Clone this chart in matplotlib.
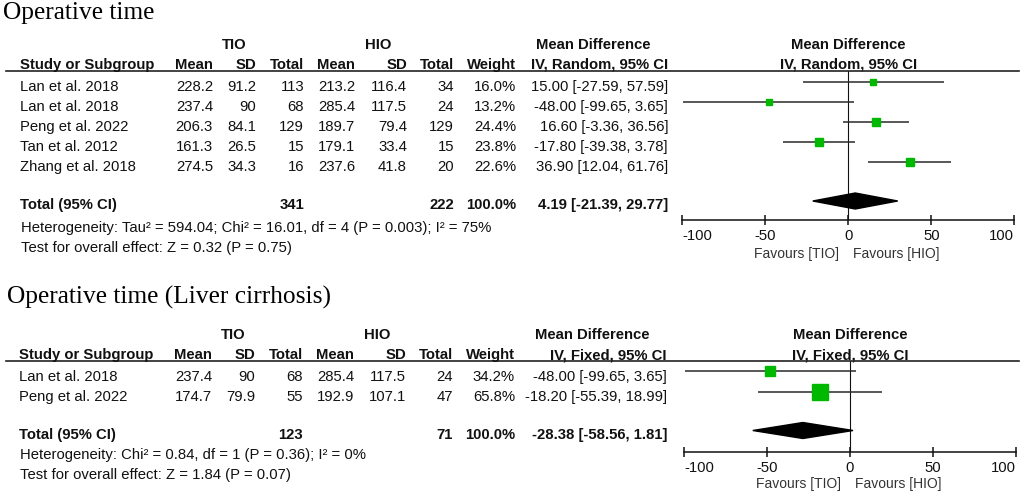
import numpy as np
import matplotlib
matplotlib.use("Agg")
import matplotlib.pyplot as plt
import matplotlib.transforms as mtransforms
from matplotlib.patches import Polygon
from matplotlib.lines import Line2D

plt.rcParams['axes.unicode_minus'] = False

# ---------------- data: panel 1 ----------------
p1_title = "Operative time"
p1_method = "IV, Random, 95% CI"
p1_studies = ["Lan et al. 2018", "Lan et al. 2018", "Peng et al. 2022",
              "Tan et al. 2012", "Zhang et al. 2018"]
p1_tio_mean = [228.2, 237.4, 206.3, 161.3, 274.5]
p1_tio_sd = [91.2, 90, 84.1, 26.5, 34.3]
p1_tio_n = [113, 68, 129, 15, 16]
p1_hio_mean = [213.2, 285.4, 189.7, 179.1, 237.6]
p1_hio_sd = [116.4, 117.5, 79.4, 33.4, 41.8]
p1_hio_n = [34, 24, 129, 15, 20]
p1_weight = [16.0, 13.2, 24.4, 23.8, 22.6]
p1_md = [15.00, -48.00, 16.60, -17.80, 36.90]
p1_lo = [-27.59, -99.65, -3.36, -39.38, 12.04]
p1_hi = [57.59, 3.65, 36.56, 3.78, 61.76]
p1_total = [341, 222]
p1_pooled = [4.19, -21.39, 29.77]
p1_het = "Heterogeneity: Tau\u00b2 = 594.04; Chi\u00b2 = 16.01, df = 4 (P = 0.003); I\u00b2 = 75%"
p1_test = "Test for overall effect: Z = 0.32 (P = 0.75)"

# ---------------- data: panel 2 ----------------
p2_title = "Operative time (Liver cirrhosis)"
p2_method = "IV, Fixed, 95% CI"
p2_studies = ["Lan et al. 2018", "Peng et al. 2022"]
p2_tio_mean = [237.4, 174.7]
p2_tio_sd = [90, 79.9]
p2_tio_n = [68, 55]
p2_hio_mean = [285.4, 192.9]
p2_hio_sd = [117.5, 107.1]
p2_hio_n = [24, 47]
p2_weight = [34.2, 65.8]
p2_md = [-48.00, -18.20]
p2_lo = [-99.65, -55.39]
p2_hi = [3.65, 18.99]
p2_total = [123, 71]
p2_pooled = [-28.38, -58.56, 1.81]
p2_het = "Heterogeneity: Chi\u00b2 = 0.84, df = 1 (P = 0.36); I\u00b2 = 0%"
p2_test = "Test for overall effect: Z = 1.84 (P = 0.07)"

group_labels = ["TIO", "HIO"]
col_headers = ["Mean", "SD", "Total", "Mean", "SD", "Total", "Weight"]
x_ticks = [-100, -50, 0, 50, 100]
favours = ["Favours [TIO]", "Favours [HIO]"]

# ---------------- style / layout ----------------
W, H = 1031, 494
SANS = "Liberation Sans"
SERIF = "Liberation Serif"
FS = 10.7
CAP = FS * 100 / 72 * 0.716          # cap height in px
TXT = "#111111"
GREEN = "#00b800"

fig = plt.figure(figsize=(W / 100, H / 100), dpi=100)
fig.patch.set_facecolor("white")


def fx(px):
    return px / W


def fy(py):
    return 1 - py / H


def put(x, y, s, ha="left", bold=False, size=FS, color=TXT, family=SANS):
    fig.text(fx(x), fy(y + size * 100 / 72 * 0.716 / 2), s, ha=ha, va="baseline",
             fontsize=size, fontweight="bold" if bold else "normal",
             color=color, family=family)


def fmt(v):
    return f"{v:g}"


col_right = [213, 256, 304, 355, 407, 454, 516]


def draw_panel(L, title, method, studies, tm, tsd, tn, hm, hsd, hn, w, md, lo, hi,
               total, pooled, het, test):
    dx = L["dx"]
    # title
    fig.text(fx(L["title_x"]), fy(L["title_base"]), title, ha="left", va="baseline",
             fontsize=18.3, family=SERIF, color="black")
    # group headers
    put(234 + dx, L["h1"], group_labels[0], ha="center", bold=True)
    put(378.5 + dx, L["h1"], group_labels[1], ha="center", bold=True)
    put(593 + dx, L["h1"], "Mean Difference", ha="center", bold=True)
    put(20 + dx, L["h2"], "Study or Subgroup", bold=True)
    for xr, lab in zip(col_right, col_headers):
        put(xr + dx, L["h2"], lab, ha="right", bold=True)
    put(668 + dx, L["h2"], method, ha="right", bold=True)
    fig.add_artist(Line2D([fx(6), fx(1019)], [fy(L["line"])] * 2,
                          transform=fig.transFigure, color="#222222", lw=1.2))
    # rows
    for i in range(len(studies)):
        y = L["row0"] + i * L["dy"]
        put(20 + dx, y, studies[i])
        vals = [fmt(tm[i]), fmt(tsd[i]), str(tn[i]), fmt(hm[i]), fmt(hsd[i]),
                str(hn[i]), f"{w[i]:.1f}%"]
        for xr, v in zip(col_right, vals):
            put(xr + dx, y, v, ha="right")
        put(668 + dx, y, f"{md[i]:.2f} [{lo[i]:.2f}, {hi[i]:.2f}]", ha="right")
    # total row
    put(20 + dx, L["tot"], "Total (95% CI)", bold=True)
    put(col_right[2] + dx, L["tot"], str(total[0]), ha="right", bold=True)
    put(col_right[5] + dx, L["tot"], str(total[1]), ha="right", bold=True)
    put(col_right[6] + dx, L["tot"], f"{sum(w):.1f}%", ha="right", bold=True)
    put(668 + dx, L["tot"], f"{pooled[0]:.2f} [{pooled[1]:.2f}, {pooled[2]:.2f}]",
        ha="right", bold=True)
    put(21 + dx, L["het"], het)
    put(21 + dx, L["test"], test)

    # forest axes
    x0, x1 = L["ax_x"]
    top, bot = L["line"], L["axis_y"]
    ax = fig.add_axes([fx(x0), fy(bot), fx(x1) - fx(x0), fy(top) - fy(bot)])
    ax.patch.set_visible(False)
    ax.set_xlim(-100, 100)
    r0, dyr = L["frow0"], L["dy"]
    ax.set_ylim((bot - r0) / dyr, (top - r0) / dyr)
    for s in ["top", "left", "right"]:
        ax.spines[s].set_visible(False)
    ax.spines["bottom"].set_bounds(-100, 100)
    ax.spines["bottom"].set_linewidth(1.1)
    ax.spines["bottom"].set_color("#111111")
    ax.set_yticks([])
    ax.set_xticks(x_ticks)
    ax.set_xticklabels([fmt(t) for t in x_ticks], family=SANS, fontsize=FS, color=TXT)
    ax.tick_params(axis="x", direction="inout", length=7, width=1.1, pad=3.0,
                   color="#111111")
    labs = ax.get_xticklabels()
    labs[0].set_ha("left")
    labs[-1].set_ha("right")

    ax.axvline(0, color="#111111", lw=0.8, zorder=1)
    ys = np.arange(len(studies))
    ax.hlines(ys, lo, hi, color="#2a2a2a", lw=1.1, zorder=2)
    for yy, m, ww in zip(ys, md, w):
        side_px = L["sq_a"] + L["sq_b"] * ww
        ax.plot([m], [yy], marker="s", ms=side_px * 0.72, color=GREEN,
                mec=GREEN, ls="none", zorder=3)
    yd = (L["diam"] - r0) / dyr
    hh = 8 / dyr
    ax.add_patch(Polygon([[pooled[1], yd], [pooled[0], yd - hh], [pooled[2], yd],
                          [pooled[0], yd + hh]], closed=True, color="black", zorder=4))

    # headers above forest + favours labels
    bt = mtransforms.blended_transform_factory(ax.transData, fig.transFigure)
    for yv, s in [(L["h1"], "Mean Difference"), (L["h2"], method)]:
        ax.text(0, fy(yv + CAP / 2), s, transform=bt, ha="center", va="baseline",
                fontsize=FS, fontweight="bold", family=SANS, color=TXT)
    fcap = 10 * 100 / 72 * 0.716
    offl = bt + mtransforms.ScaledTranslation(-9 / 100, 0, fig.dpi_scale_trans)
    offr = bt + mtransforms.ScaledTranslation(5 / 100, 0, fig.dpi_scale_trans)
    ax.text(0, fy(L["fav"] + fcap / 2), favours[0], transform=offl, ha="right",
            va="baseline", fontsize=10, family=SANS, color="#333333")
    ax.text(0, fy(L["fav"] + fcap / 2), favours[1], transform=offr, ha="left",
            va="baseline", fontsize=10, family=SANS, color="#333333")
    return ax


L1 = dict(dx=0, title_x=3, title_base=19.5, h1=44, h2=63.5, line=70.5, row0=86,
          dy=20, tot=204, het=227, test=247, ax_x=(682.3, 1014.3), axis_y=220,
          frow0=82, diam=201, fav=253.3, sq_a=3.0, sq_b=0.18)
L2 = dict(dx=-1, title_x=7, title_base=304, h1=334, h2=354, line=361, row0=375.5,
          dy=20.5, tot=434, het=454, test=474, ax_x=(684, 1016), axis_y=451.7,
          frow0=371, diam=430.5, fav=483.3, sq_a=1.75, sq_b=0.212)

draw_panel(L1, p1_title, p1_method, p1_studies, p1_tio_mean, p1_tio_sd, p1_tio_n,
           p1_hio_mean, p1_hio_sd, p1_hio_n, p1_weight, p1_md, p1_lo, p1_hi,
           p1_total, p1_pooled, p1_het, p1_test)
draw_panel(L2, p2_title, p2_method, p2_studies, p2_tio_mean, p2_tio_sd, p2_tio_n,
           p2_hio_mean, p2_hio_sd, p2_hio_n, p2_weight, p2_md, p2_lo, p2_hi,
           p2_total, p2_pooled, p2_het, p2_test)

fig.savefig("out.png", dpi=100, facecolor="white")
